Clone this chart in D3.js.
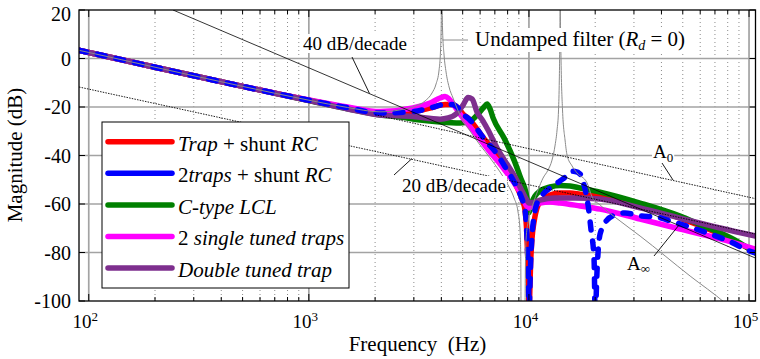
<!DOCTYPE html>
<html><head><meta charset="utf-8">
<script src="https://cdnjs.cloudflare.com/ajax/libs/d3/7.8.5/d3.min.js"></script>
<style>
html,body{margin:0;padding:0;background:#fff;}
svg{display:block;}
svg text{font-family:"Liberation Serif","Times New Roman",serif;white-space:pre;}
</style></head><body>
<svg id="chart" width="760" height="359"></svg>
<script>
// ---------- data (frequency in Hz, magnitude in dB) ----------
const yTicks = [-100, -80, -60, -40, -20, 0, 20];
const xMajorTicks = [100, 1000, 10000, 100000];
const xTickExponents = ["2", "3", "4", "5"];
const xMinorMultipliers = [2, 3, 4, 5, 6, 7, 8, 9];

const legendLabels = ["*Trap* + shunt *RC*", "2*traps* + shunt *RC*", "*C-type LCL*", "2 *single tuned traps*", "*Double tuned trap*"];

const trapShuntRC = [[90,3.4],[100,2.5],[200,-3.6],[500,-11.5],[1000,-17.2],[1500,-20.3],[2106,-22.5],[2974,-21.9],[3554,-20.4],[4158,-19.0],[4473,-19.0],[4765,-20.4],[5020,-22.9],[5401,-25.4],[5810,-29.1],[6318,-33.6],[7162,-39.4],[7790,-44.7],[8468,-50.1],[9111,-55.9],[9401,-59.2],[9600,-62.5],[9752,-69.9],[9856,-79.8],[9959,-93.4],[10012,-106],[10065,-99.6],[10170,-85.2],[10330,-74.0],[10549,-67.4],[10886,-61.6],[11470,-58.4],[12470,-56.3],[13850,-55.5],[15380,-55.5],[17070,-56.0],[21050,-56.9],[31980,-60.8],[48620,-65.8],[73880,-72.4],[107000,-79.8]];

const twoTrapsShuntRC = [[90,3.4],[100,2.5],[200,-3.6],[500,-11.5],[1000,-17.2],[1500,-20.3],[2106,-22.5],[2974,-21.9],[3554,-20.4],[4158,-19.0],[4473,-19.0],[4765,-20.4],[5020,-22.9],[5401,-25.4],[5810,-29.1],[6318,-33.6],[7162,-39.4],[7790,-44.7],[8468,-50.1],[9111,-55.9],[9401,-59.2],[9600,-62.5],[9752,-69.9],[9856,-79.8],[9959,-93.4],[10012,-106],[10065,-99.6],[10170,-85.2],[10330,-73.0],[10549,-65.0],[10886,-59.6],[11590,-55.9],[12470,-53.4],[13850,-50.5],[15060,-48.0],[15700,-46.5],[16200,-46.6],[17070,-47.6],[17800,-52.2],[18560,-60.4],[19150,-70.7],[19770,-83.1],[20000,-106],[20400,-87.2],[20830,-74.8],[21490,-69.9],[22650,-66.6],[24630,-64.5],[27340,-63.7],[31980,-64.9],[38210,-65.4],[45180,-67.4],[53980,-69.5],[64510,-71.9],[84590,-76.1],[97930,-79.0],[107000,-80.2]];

const cTypeLCL = [[90,3.4],[100,2.5],[200,-3.6],[500,-11.5],[1000,-17.3],[1500,-20.7],[2106,-23.3],[2594,-24.1],[3198,-25.4],[3946,-26.2],[4864,-26.6],[5401,-25.8],[5872,-22.9],[6252,-20.0],[6450,-18.8],[6657,-20.8],[6871,-24.5],[7709,-32.8],[8557,-41.9],[9207,-49.7],[9700,-55.5],[9908,-60.4],[10012,-63.5],[10117,-62.1],[10330,-59.2],[10660,-56.7],[11230,-54.6],[12470,-53.0],[13850,-52.4],[15380,-52.6],[17070,-53.4],[21050,-55.1],[31980,-59.6],[48620,-65.0],[59930,-68.5],[73880,-71.9],[91060,-76.1],[107000,-80.2]];

const twoSingleTunedTraps = [[90,3.4],[100,2.5],[200,-3.6],[500,-11.5],[1000,-17.1],[1500,-20.0],[2106,-21.9],[2974,-20.4],[3554,-18.4],[3946,-16.3],[4158,-15.7],[4336,-16.7],[4617,-20.0],[4864,-22.9],[5401,-28.2],[5998,-33.2],[6657,-38.6],[7393,-43.5],[8204,-48.9],[8830,-53.0],[9401,-57.5],[9700,-60.4],[10012,-61.6],[10440,-60.8],[11230,-59.6],[12470,-59.2],[13850,-59.6],[17070,-60.8],[21050,-62.1],[31980,-66.2],[48620,-70.3],[73880,-74.4],[107000,-78.6]];

const doubleTunedTrap = [[90,3.4],[100,2.5],[200,-3.6],[500,-11.5],[1000,-17.3],[1500,-20.8],[2106,-23.3],[2974,-23.9],[3946,-25.0],[4291,-24.5],[4715,-22.5],[5020,-19.2],[5289,-16.1],[5515,-16.7],[5810,-22.1],[6187,-25.8],[6520,-29.5],[7162,-36.9],[7790,-42.3],[8647,-48.9],[9401,-55.5],[9700,-57.9],[10012,-59.6],[10440,-59.4],[11230,-58.4],[13150,-57.5],[16200,-57.5],[21050,-57.9],[31980,-61.6],[48620,-65.8],[73880,-69.9],[107000,-73.2]];

const undampedFilter = [[90,3.4],[100,2.5],[200,-3.6],[500,-11.5],[1000,-17.2],[1500,-20.2],[2106,-22.0],[2594,-21.2],[3037,-19.6],[3373,-17.5],[3629,-14.2],[3785,-10.5],[3906,-4.7],[3966,3.5],[3995,13.8],[4015,30],[4051,11.75],[4115,1.4],[4202,-5.6],[4336,-11.75],[4520,-16.3],[4864,-23.3],[5401,-29.9],[5998,-35.7],[6657,-41.0],[7393,-46.8],[8040,-52.2],[8557,-57.5],[8923,-63.3],[9111,-70.7],[9178,-81.0],[9207,-101.6],[9401,-130],[9600,-101.6],[9632,-87.2],[9700,-74.8],[9908,-67.4],[10440,-60.0],[11000,-54.2],[11590,-49.3],[12210,-46.0],[12730,-41.9],[13150,-35.7],[13420,-29.5],[13630,-21.2],[13740,-8.9],[13800,3.5],[13850,20],[13870,30],[13890,20],[13990,-0.6],[14210,-21.2],[14590,-33.6],[14900,-39.8],[15700,-44.3],[16540,-47.2],[18370,-51.3],[19360,-57.1],[21050,-60.4],[25940,-67.0],[31980,-73.2],[53980,-89.7],[77810,-100.8],[90000,-106]];

const asymptote40 = [[241.5,20],[107000,-82.3]];
const asymptote20 = [[90.3,-11.75],[107000,-72.4]];
const asymptoteA0 = [[2000,-23.2],[107000,-57.8]];

// ---------- scales ----------
const L = 79, R = 755.5, T = 10, B = 301;
const x = d3.scaleLog().domain([90.3, 107000]).range([L, R]);
const y = d3.scaleLinear().domain([-100, 20]).range([B, T]);

const svg = d3.select("#chart");
svg.append("rect").attr("width", 760).attr("height", 359).attr("fill", "#fff");
svg.append("defs").append("clipPath").attr("id", "clip")
  .append("rect").attr("x", L).attr("y", T).attr("width", R - L).attr("height", B - T);

// ---------- grid ----------
const grid = svg.append("g");
const minorVals = [];
[10, 100, 1000, 10000].forEach(d => xMinorMultipliers.forEach(m => {
  const v = d * m; if (v > x.domain()[0] && v < x.domain()[1]) minorVals.push(v);
}));
grid.selectAll(".minor").data(minorVals).enter().append("line")
  .attr("x1", d => x(d)).attr("x2", d => x(d)).attr("y1", T).attr("y2", B)
  .attr("stroke", "#8c8c8c").attr("stroke-width", 1).attr("stroke-dasharray", "1,3");
grid.selectAll(".majx").data(xMajorTicks).enter().append("line")
  .attr("x1", d => x(d)).attr("x2", d => x(d)).attr("y1", T).attr("y2", B)
  .attr("stroke", "#a3a3a3").attr("stroke-width", 1.7);
grid.selectAll(".majy").data(yTicks.slice(1, -1)).enter().append("line")
  .attr("x1", L).attr("x2", R).attr("y1", d => y(d)).attr("y2", d => y(d))
  .attr("stroke", "#a3a3a3").attr("stroke-width", 1.7);

// ---------- curves ----------
const line = d3.line().x(d => x(d[0])).y(d => y(d[1])).curve(d3.curveMonotoneX);
const plotG = svg.append("g").attr("clip-path", "url(#clip)");
const series = [
  {data: trapShuntRC, color: "#ff0000", dash: null},
  {data: twoTrapsShuntRC, color: "#0000ff", dash: "8,11"},
  {data: cTypeLCL, color: "#008000", dash: null},
  {data: twoSingleTunedTraps, color: "#ff00ff", dash: null},
  {data: doubleTunedTrap, color: "#7e2f8e", dash: null}
];
const drawOrder = [0, 2, 3, 4, 1];
drawOrder.forEach(i => {
  const s = series[i];
  plotG.append("path").attr("d", line(s.data)).attr("fill", "none")
    .attr("stroke", s.color).attr("stroke-width", 5.5)
    .attr("stroke-linejoin", "round").attr("stroke-linecap", "round")
    .attr("stroke-dasharray", s.dash);
});
plotG.append("path").attr("d", line(undampedFilter)).attr("fill", "none")
  .attr("stroke", "#8a8a8a").attr("stroke-width", 1);

const straight = d3.line().x(d => x(d[0])).y(d => y(d[1]));
plotG.append("path").attr("d", straight(asymptote40)).attr("fill", "none")
  .attr("stroke", "#000").attr("stroke-width", 0.8);
plotG.append("path").attr("d", straight(asymptote20)).attr("fill", "none")
  .attr("stroke", "#000").attr("stroke-width", 0.9).attr("stroke-dasharray", "1.5,1.2");
plotG.append("path").attr("d", straight(asymptoteA0)).attr("fill", "none")
  .attr("stroke", "#000").attr("stroke-width", 0.9).attr("stroke-dasharray", "1.5,1.2");

// ---------- legend ----------
const lg = svg.append("g");
lg.append("rect").attr("x", 102).attr("y", 122).attr("width", 247).attr("height", 166)
  .attr("fill", "#fff").attr("stroke", "#000").attr("stroke-width", 1);
legendLabels.forEach((lab, i) => {
  const yy = 141.7 + i * 31.6;
  lg.append("line").attr("x1", 108).attr("x2", 172).attr("y1", yy).attr("y2", yy)
    .attr("stroke", series[i].color).attr("stroke-width", 5.5).attr("stroke-linecap", "round");
  const t = lg.append("text").attr("x", 178).attr("y", yy + 8.8).attr("font-size", 21);
  lab.split("*").forEach((seg, k) => {
    if (!seg) return;
    const ts = t.append("tspan").text(seg);
    if (k % 2 === 1) ts.attr("font-style", "italic");
  });
});

// ---------- annotations ----------
const ann = svg.append("g");
function addLabel(xPos, yBase, size, parts) {
  const g = ann.append("g");
  const t = g.append("text").attr("x", xPos).attr("y", yBase).attr("font-size", size);
  parts.forEach(p => {
    const ts = t.append("tspan").text(p.t);
    if (p.i) ts.attr("font-style", "italic");
    if (p.s) ts.attr("font-size", p.s);
    if (p.dy) ts.attr("dy", p.dy);
  });
  const bb = t.node().getBBox();
  g.insert("rect", () => t.node()).attr("x", bb.x - 1).attr("y", bb.y + 1)
    .attr("width", bb.width + 2).attr("height", bb.height - 2).attr("fill", "#fff");
}
addLabel(303, 50, 19, [{t: "40 dB/decade"}]);
addLabel(402, 192, 19, [{t: "20 dB/decade"}]);
addLabel(475, 46, 21, [{t: "Undamped filter ("}, {t: "R", i: true}, {t: "d", i: true, s: 14, dy: 4}, {t: " = 0)", dy: -4}]);
addLabel(653, 158, 19, [{t: "A"}, {t: "0", s: 13, dy: 4}]);
addLabel(627, 270, 19, [{t: "A"}, {t: "\u221E", s: 13, dy: 3}]);

const leaders = [
  {p: [[352, 57], [369.5, 93.5]], c: "#000"},
  {p: [[394, 175], [412, 158.5]], c: "#000"},
  {p: [[442.5, 40], [468, 40]], c: "#808080"},
  {p: [[662, 163], [673, 180]], c: "#000"},
  {p: [[654, 256], [679, 225]], c: "#000"}
];
leaders.forEach(l => ann.append("line").attr("x1", l.p[0][0]).attr("y1", l.p[0][1])
  .attr("x2", l.p[1][0]).attr("y2", l.p[1][1]).attr("stroke", l.c).attr("stroke-width", 0.9));

// ---------- frame, ticks, labels ----------
const ax = svg.append("g");
ax.append("rect").attr("x", L).attr("y", T).attr("width", R - L).attr("height", B - T)
  .attr("fill", "none").attr("stroke", "#000").attr("stroke-width", 1.3);
minorVals.forEach(v => {
  ax.append("line").attr("x1", x(v)).attr("x2", x(v)).attr("y1", B).attr("y2", B - 4).attr("stroke", "#000");
  ax.append("line").attr("x1", x(v)).attr("x2", x(v)).attr("y1", T).attr("y2", T + 4).attr("stroke", "#000");
});
xMajorTicks.forEach(v => {
  ax.append("line").attr("x1", x(v)).attr("x2", x(v)).attr("y1", B).attr("y2", B - 7).attr("stroke", "#000");
  ax.append("line").attr("x1", x(v)).attr("x2", x(v)).attr("y1", T).attr("y2", T + 7).attr("stroke", "#000");
});
yTicks.forEach(v => {
  ax.append("line").attr("x1", L).attr("x2", L + 6).attr("y1", y(v)).attr("y2", y(v)).attr("stroke", "#000");
  ax.append("line").attr("x1", R).attr("x2", R - 6).attr("y1", y(v)).attr("y2", y(v)).attr("stroke", "#000");
  ax.append("text").attr("x", 71).attr("y", Math.max(y(v), 14) + 7).attr("text-anchor", "end")
    .attr("font-size", 20).text(v);
});
xMajorTicks.forEach((v, i) => {
  const t = ax.append("text").attr("x", x(v) - 3.5).attr("y", 328).attr("text-anchor", "middle").attr("font-size", 19);
  t.append("tspan").text("10");
  t.append("tspan").attr("font-size", 13).attr("dy", -7).text(xTickExponents[i]);
});
ax.append("text").attr("transform", "translate(21.5,155) rotate(-90)").attr("text-anchor", "middle")
  .attr("font-size", 21).text("Magnitude (dB)");
ax.append("text").attr("x", 417.5).attr("y", 351).attr("text-anchor", "middle")
  .attr("font-size", 21).text("Frequency\u00A0 (Hz)");
</script>
</body></html>
